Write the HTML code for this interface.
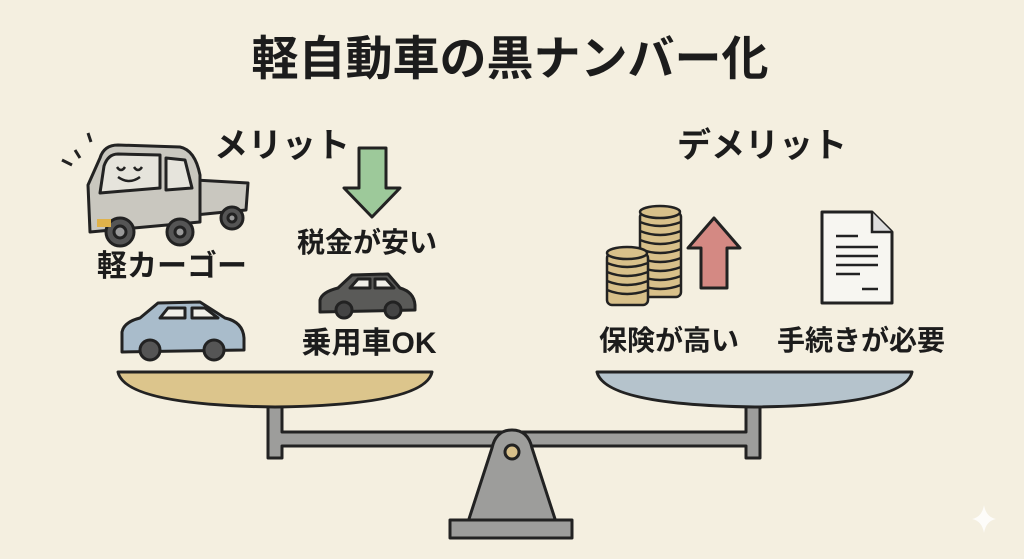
<!DOCTYPE html><html><head><meta charset="utf-8"><style>
body{margin:0;background:#f4efe0;}
svg{display:block}
text{font-family:"Liberation Sans","Noto Sans CJK JP",sans-serif;font-weight:bold;fill:#1c1c1c}
</style></head><body>
<svg width="1024" height="559" viewBox="0 0 1024 559" xmlns="http://www.w3.org/2000/svg">
<rect width="1024" height="559" fill="#f4efe0"/>
<text x="510" y="75" font-size="47" text-anchor="middle">軽自動車の黒ナンバー化</text>
<text x="282" y="157" font-size="34" text-anchor="middle">メリット</text>
<text x="762" y="157" font-size="34" text-anchor="middle">デメリット</text>
<!-- truck -->
<g stroke="#222" stroke-width="3" stroke-linejoin="round">
<line x1="75" y1="150" x2="80" y2="158"/><line x1="62" y1="160" x2="72" y2="165"/><line x1="88" y1="133" x2="91" y2="142"/>
<path d="M195 180 L248 183 L246 210 L195 215 Z" fill="#c9c7bf"/>
<path d="M100 158 Q104 145 118 145 L180 147 Q195 150 200 175 L200 222 L90 232 L88 185 Z" fill="#c9c7bf"/>
<path d="M104 166 Q108 154 118 154 L160 155 L160 188 L100 193 Z" fill="#e6e4dc"/>
<path d="M166 158 L185 160 L192 188 L166 190 Z" fill="#e6e4dc"/>
<circle cx="120" cy="232" r="14" fill="#555"/><circle cx="120" cy="232" r="6" fill="#999"/>
<circle cx="180" cy="232" r="13" fill="#555"/><circle cx="180" cy="232" r="5" fill="#999"/>
<circle cx="232" cy="218" r="11" fill="#555"/><circle cx="232" cy="218" r="4" fill="#999"/>
</g>
<rect x="97" y="219" width="14" height="8" fill="#e0b24a"/>
<path d="M117 167 q4 6 8 0 M134 167 q4 6 8 0 M118 177 q11 8 22 0" stroke="#222" stroke-width="2.5" fill="none"/>
<text x="172" y="276" font-size="30" text-anchor="middle">軽カーゴー</text>
<!-- blue car -->
<g stroke="#222" stroke-width="3" stroke-linejoin="round">
<path d="M122 332 Q124 322 140 318 L158 303 L200 302 L225 318 Q243 322 244 338 L244 350 L122 352 Z" fill="#a9bccb"/>
<path d="M160 318 L168 308 L185 308 L185 318 Z M192 308 L205 308 L218 318 L192 318 Z" fill="#f0efe8"/>
<circle cx="150" cy="350" r="10" fill="#555"/><circle cx="214" cy="350" r="10" fill="#555"/>
</g>
<!-- green arrow -->
<path d="M359 148 L386 148 L386 188 L400 188 L372 217 L344 188 L359 188 Z" fill="#9dc99a" stroke="#222" stroke-width="3" stroke-linejoin="round"/>
<text x="367" y="252" font-size="28" text-anchor="middle">税金が安い</text>
<!-- dark car -->
<g stroke="#222" stroke-width="3" stroke-linejoin="round">
<path d="M320 300 Q322 292 338 288 L352 275 L388 274 L400 288 Q414 292 415 305 L415 310 L320 312 Z" fill="#5a5a58"/>
<path d="M350 288 L358 279 L370 279 L370 288 Z M375 279 L386 279 L394 288 L375 288 Z" fill="#f0efe8"/>
<circle cx="344" cy="310" r="8" fill="#444"/><circle cx="393" cy="310" r="8" fill="#444"/>
</g>
<text x="369" y="353" font-size="30" text-anchor="middle">乗用車OK</text>
<!-- coins -->
<g stroke="#222" stroke-width="2.5" fill="#d8c08a">
<rect x="640" y="212" width="41" height="85" rx="5"/>
<ellipse cx="660" cy="212" rx="20" ry="6"/>
<path d="M640 222 q20 8 41 0 M640 231 q20 8 41 0 M640 240 q20 8 41 0 M640 249 q20 8 41 0 M640 258 q20 8 41 0 M640 267 q20 8 41 0 M640 276 q20 8 41 0 M640 285 q20 8 41 0" fill="none"/>
<rect x="607" y="253" width="41" height="52" rx="5"/>
<ellipse cx="627" cy="253" rx="20" ry="6"/>
<path d="M607 263 q20 8 41 0 M607 272 q20 8 41 0 M607 281 q20 8 41 0 M607 290 q20 8 41 0" fill="none"/>
</g>
<path d="M714 218 L740 248 L727 248 L727 288 L701 288 L701 248 L688 248 Z" fill="#d48983" stroke="#222" stroke-width="3" stroke-linejoin="round"/>
<!-- doc -->
<path d="M822 212 L872 212 L892 232 L892 303 L822 303 Z" fill="#f7f6f1" stroke="#222" stroke-width="3" stroke-linejoin="round"/>
<path d="M872 212 L872 232 L892 232" fill="#ddd" stroke="#222" stroke-width="2.5"/>
<path d="M836 236 H858 M836 247 H878 M836 256 H878 M836 265 H878 M836 274 H860 M862 289 H878" stroke="#222" stroke-width="2.5"/>
<text x="669" y="350" font-size="28" text-anchor="middle">保険が高い</text>
<text x="861" y="350" font-size="28" text-anchor="middle">手続きが必要</text>
<!-- scale -->
<g stroke="#222" stroke-width="3" stroke-linejoin="round">
<path d="M268 400 L268 458 L282 458 L282 446 L746 446 L746 458 L760 458 L760 400 L746 400 L746 432 L282 432 L282 400 Z" fill="#9d9d9b"/>
<path d="M118 372 L432 372 Q425 405 275 407 Q125 405 118 372 Z" fill="#dcc58c"/>
<path d="M597 372 L912 372 Q905 405 755 407 Q605 405 597 372 Z" fill="#b5c3cc"/>
<path d="M492 448 Q496 430 512 430 Q528 430 532 448 L556 522 L468 522 Z" fill="#9d9d9b"/>
<circle cx="512" cy="452" r="7" fill="#d8c08a"/>
<rect x="450" y="520" width="122" height="18" fill="#9d9d9b"/>
</g>
<path d="M984 505 Q986 517 996 519 Q986 521 984 533 Q982 521 972 519 Q982 517 984 505 Z" fill="#fff" opacity="0.8"/>
</svg>
</body></html>
